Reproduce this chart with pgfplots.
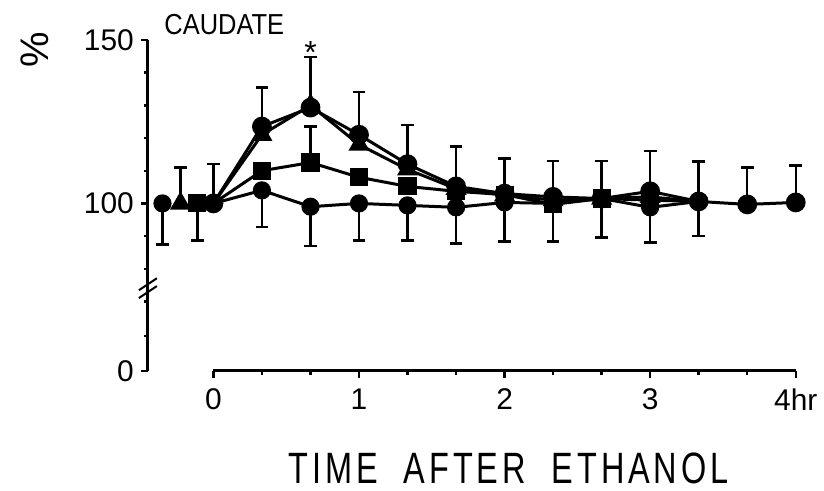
\documentclass[border=0pt]{standalone}
\usepackage{fontspec}
\setmainfont{Liberation Sans}
\usepackage{pgfplots}
\pgfplotsset{compat=1.18}

\pgfplotsset{
  ebar/.style={
    only marks, mark=none, forget plot,
    error bars/.cd, y explicit, y dir=#1,
    error bar style={line width=1.2pt, black},
    error mark options={rotate=90, mark size=3.2pt, line width=1.2pt, black},
  },
  series/.style={black, line width=1.5pt, mark options={solid, fill=black}},
}

\begin{document}
\begin{tikzpicture}
\begin{axis}[
  x=73pt, y=1.64pt,
  xmin=-0.45, xmax=4, ymin=48.8, ymax=150,
  axis x line*=bottom, axis y line*=left,
  separate axis lines,
  axis line style={-, line width=1.5pt},
  x axis line style={shorten <=32.85pt},
  xtick={0,1,2,3,4}, xticklabels={0,1,2,3,4hr},
  minor xtick={0.3333,0.6667,1.3333,1.6667,2.3333,2.6667,3.3333,3.6667},
  ytick={48.8,100,150}, yticklabels={0,100,150},
  minor ytick={59.5,70,80,90,110,120,130,140},
  tick align=outside,
  major tick length=3.5pt, minor tick length=2pt,
  every tick/.style={line width=1.2pt, black},
  tick label style={font=\fontsize{15}{16}\selectfont},
  xticklabel style={yshift=-2pt},
  /pgf/number format/assume math mode=true,
  clip=false,
]

% upper error bars
\addplot[ebar=plus] coordinates {
  (-0.226,100) +- (0,11)
  (0,100) +- (0,12)
  (0.333,123.5) +- (0,11.9)
  (0.667,130) +- (0,14.8)
  (0.667,112.5) +- (0,11)
  (1,121) +- (0,13)
  (1.333,112) +- (0,12)
  (1.667,105.2) +- (0,12.2)
  (2,103) +- (0,10.7)
  (2.333,102) +- (0,11)
  (2.667,101.5) +- (0,11.5)
  (3,103.7) +- (0,12.3)
  (3.333,100.6) +- (0,12.2)
  (3.667,99.7) +- (0,11.3)
  (4,100.3) +- (0,11.3)
};
% lower error bars
\addplot[ebar=minus] coordinates {
  (-0.35,100) +- (0,12.5)
  (-0.11,100) +- (0,11.3)
  (0.333,104) +- (0,11.3)
  (0.667,99) +- (0,12)
  (1,100) +- (0,11.3)
  (1.333,99.4) +- (0,10.7)
  (1.667,98.8) +- (0,11)
  (2,100.3) +- (0,11.9)
  (2.333,100) +- (0,11.6)
  (2.667,101.5) +- (0,11.9)
  (3,98.8) +- (0,10.8)
  (3.333,100.6) +- (0,10.6)
};

% control series (circles)
\addplot[series, mark=*, mark size=3.8pt, mark phase=2] coordinates {
  (0,100) (0.333,104) (0.667,99) (1,100) (1.333,99.4) (1.667,98.8)
  (2,100.3) (2.333,100) (2.667,101.5) (3,98.8) (3.333,100.6)
};
\addplot[series, only marks, mark=*, mark size=3.8pt] coordinates {(-0.35,100)};

% square series
\addplot[series, mark=square*, mark size=3.8pt, mark indices={2,...,10}] coordinates {
  (0,100) (0.333,110) (0.667,112.5) (1,108) (1.333,105.2) (1.667,103.7)
  (2,102.7) (2.333,99.7) (2.667,101.5) (3,101) (3.333,100.6)
};
\addplot[series, only marks, mark=square*, mark size=3.8pt] coordinates {(-0.11,100)};

% triangle series
\addplot[series, mark=triangle*, mark size=4.6pt, mark indices={2,...,10}] coordinates {
  (0,100) (0.333,121) (0.667,130) (1,118) (1.333,110.4) (1.667,104.5)
  (2,102.5) (2.333,101) (2.667,101.5) (3,102) (3.333,100.6)
};
\addplot[series, only marks, mark=triangle*, mark size=4.6pt] coordinates {(-0.226,100)};

% large-dot series
\addplot[series, mark=*, mark size=4.2pt] coordinates {
  (0,100) (0.333,123.5) (0.667,129.3) (1,121) (1.333,112) (1.667,105.2)
  (2,103) (2.333,102) (2.667,101.5) (3,103.7) (3.333,100.6) (3.667,99.7) (4,100.3)
};

% significance marker
\node[font=\fontsize{16}{16}\selectfont] at (axis cs:0.667,146.2) {*};

% axis break
\draw[line width=1pt] ([xshift=-4.5pt,yshift=-3.5pt]axis cs:-0.45,73.2) -- ++(9pt,6pt);
\draw[line width=1pt] ([xshift=-4.5pt,yshift=-3.5pt]axis cs:-0.45,75.6) -- ++(9pt,6pt);

% labels
\node[font=\fontsize{14.5}{16}\selectfont, xscale=0.88] at (axis cs:0.075,154.6) {CAUDATE};
\node[font=\fontsize{20}{20}\selectfont, rotate=90] at (axis cs:-1.226,147) {\%};
\node[font=\fontsize{22}{22}\selectfont\addfontfeature{LetterSpace=12}, xscale=0.74]
  at (axis cs:2.027,18.9) {TIME\hspace{0.8em}AFTER\hspace{0.8em}ETHANOL};

\coordinate (tl) at (axis cs:-1.466,162.2);
\coordinate (br) at (axis cs:4.178,12.2);
\end{axis}
\path (tl) rectangle (br);
\end{tikzpicture}
\end{document}
